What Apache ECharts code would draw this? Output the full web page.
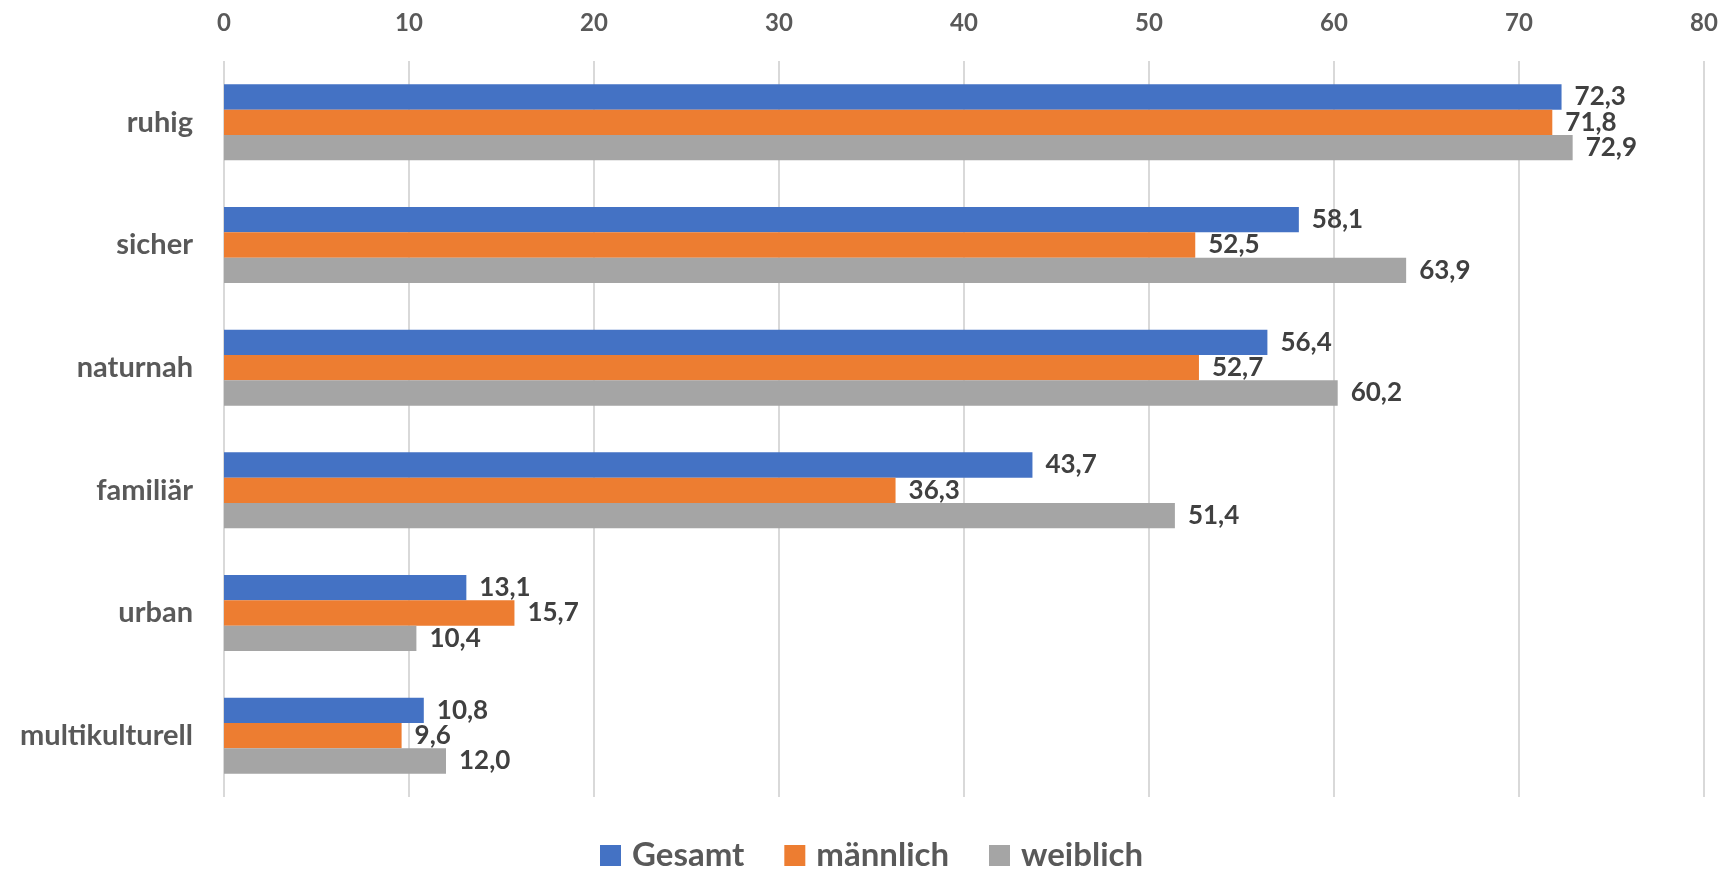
<!DOCTYPE html>
<html><head><meta charset="utf-8">
<script src="https://cdn.jsdelivr.net/npm/echarts@6/dist/echarts.min.js"></script>
<style>html,body{margin:0;padding:0;background:#fff}#c{width:1736px;height:871px}</style>
</head><body><div id="c"></div>
<script>
var categories = ['ruhig','sicher','naturnah','familiär','urban','multikulturell'];
var gesamt = [72.3, 58.1, 56.4, 43.7, 13.1, 10.8];
var maennlich = [71.8, 52.5, 52.7, 36.3, 15.7, 9.6];
var weiblich = [72.9, 63.9, 60.2, 51.4, 10.4, 12.0];
var seriesNames = ['Gesamt','männlich','weiblich'];
var colors = ['#4472C4','#ED7D31','#A5A5A5'];
var ff = 'Lato, "Open Sans", sans-serif';
var chart = echarts.init(document.getElementById('c'));
function mk(name, data, color){
  return {name:name, type:'bar', data:data, barGap:'0%', barCategoryGap:'38%',
    itemStyle:{color:color},
    label:{show:true, position:'right', distance:13, color:'#404040', fontFamily:ff, fontWeight:'bold', fontSize:26,
      formatter:function(p){return p.value.toFixed(1).replace('.',',');}}};
}
chart.setOption({
  animation:false,
  grid:{left:224, right:32, top:61, bottom:74, containLabel:false},
  legend:{top:839, left:600, padding:0, itemWidth:21, itemHeight:21, itemGap:40,
    icon:'rect', textStyle:{fontFamily:ff, fontWeight:'bold', fontSize:33, lineHeight:33, color:'#595959', padding:[0,0,0,6]}},
  xAxis:{type:'value', position:'top', min:0, max:80, interval:10,
    axisLine:{show:false}, axisTick:{show:false},
    splitLine:{lineStyle:{color:'#D9D9D9', width:2}},
    axisLabel:{fontFamily:ff, fontWeight:'bold', fontSize:24, color:'#595959', margin:26}},
  yAxis:{type:'category', data:categories, inverse:true,
    axisLine:{show:false}, axisTick:{show:false},
    axisLabel:{fontFamily:ff, fontWeight:'bold', fontSize:29, color:'#595959', margin:31}},
  series:[mk(seriesNames[0], gesamt, colors[0]), mk(seriesNames[1], maennlich, colors[1]), mk(seriesNames[2], weiblich, colors[2])]
});
</script></body></html>
